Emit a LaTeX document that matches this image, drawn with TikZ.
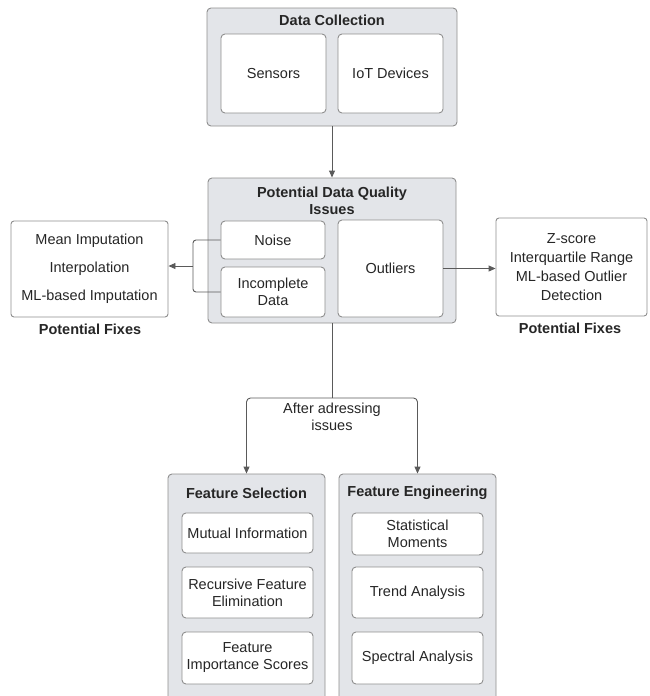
\documentclass[tikz,border=0pt]{standalone}
\usepackage{fontspec}
\setmainfont{Liberation Sans}
\usepackage{tikz}
\usetikzlibrary{arrows.meta,positioning,calc}
\definecolor{panelgray}{HTML}{E3E5E9}
\definecolor{edgegray}{HTML}{8E8E8E}
\definecolor{linegray}{HTML}{5A5A5A}

\begin{document}
\begin{tikzpicture}[x=1pt, y=-1pt, line width=0.9pt,
  every node/.style={font=\fontsize{14.5}{17}\selectfont, text=black!85, align=center},
  outer box/.style={rectangle, draw=edgegray, fill=panelgray, rounded corners=4pt, inner sep=0pt},
  inner box/.style={rectangle, draw=edgegray, fill=white, rounded corners=4pt, inner sep=0pt},
  fix box/.style={rectangle, draw=edgegray, fill=white, rounded corners=3pt, inner sep=0pt},
  title/.style={font=\fontsize{14.5}{17}\selectfont\bfseries},
  conn/.style={draw=linegray, line width=0.9pt},
  arrow/.style={conn, -{Triangle[length=7pt,width=6pt]}}]
\useasboundingbox (0,0) rectangle (649,696);
% data collection
\node[outer box, minimum width=250, minimum height=118] (dc) at (332,67) {};
\node[title] (dctitle) at (332,20) {Data Collection};
\node[inner box, minimum width=105, minimum height=79] (sensors) at (273.5,73.5) {Sensors};
\node[inner box, minimum width=105, minimum height=79] (iot) at (390.5,73.5) {IoT Devices};
% quality issues
\node[outer box, minimum width=248, minimum height=145] (issues) at (332,250.5) {};
\node[title] (issuestitle) at (332,201) {Potential Data Quality\\Issues};
\node[inner box, minimum width=104, minimum height=38] (noise) at (273,240) {Noise};
\node[inner box, minimum width=104, minimum height=50] (incomplete) at (273,292) {Incomplete\\Data};
\node[inner box, minimum width=105, minimum height=97] (outliers) at (390.5,268.5) {Outliers};
% fixes
\node[fix box, minimum width=157, minimum height=96,
  font=\fontsize{14.5}{28}\selectfont] (leftfix) at (89.5,269) {Mean Imputation\\Interpolation\\ML-based Imputation};
\node[title] (leftfixtitle) at (90,329) {Potential Fixes};
\node[fix box, minimum width=151, minimum height=98,
  font=\fontsize{14.5}{19}\selectfont] (rightfix) at (571.5,267) {Z-score\\Interquartile Range\\ML-based Outlier\\Detection};
\node[title] (rightfixtitle) at (570,328) {Potential Fixes};
% features
\node[outer box, minimum width=157, minimum height=230] (sel) at (246.5,589) {};
\node[title] (seltitle) at (246.5,493) {Feature Selection};
\node[inner box, minimum width=131, minimum height=40] (mutual) at (247.5,533) {Mutual Information};
\node[inner box, minimum width=131, minimum height=51] (recursive) at (247.5,592.5) {Recursive Feature\\Elimination};
\node[inner box, minimum width=131, minimum height=52] (importance) at (247.5,658) {Feature\\Importance Scores};
\node[outer box, minimum width=157, minimum height=230] (eng) at (417.5,589) {};
\node[title] (engtitle) at (417.5,493) {Feature Engineering};
\node[inner box, minimum width=131, minimum height=42] (moments) at (417.5,534) {Statistical\\Moments};
\node[inner box, minimum width=131, minimum height=51] (trend) at (417.5,592.5) {Trend Analysis};
\node[inner box, minimum width=131, minimum height=52] (spectral) at (417.5,658) {Spectral Analysis};
% connectors
\coordinate (join) at (193,266);
\coordinate (split) at (332,398);
\draw[arrow] (dc.south) -- (issues.north);
\draw[conn, rounded corners=3pt] (noise.west) -| (join) |- (incomplete.west);
\draw[arrow] (join) -- (leftfix.east |- join);
\draw[arrow] (outliers.east) -- (outliers.east -| rightfix.west);
\draw[conn] (issues.south) -- (split);
\draw[arrow, rounded corners=4pt] (split) -| (sel.north);
\draw[arrow, rounded corners=4pt] (split) -| (eng.north);
\node (after) at (332,417) {After adressing\\issues};
\end{tikzpicture}
\end{document}
